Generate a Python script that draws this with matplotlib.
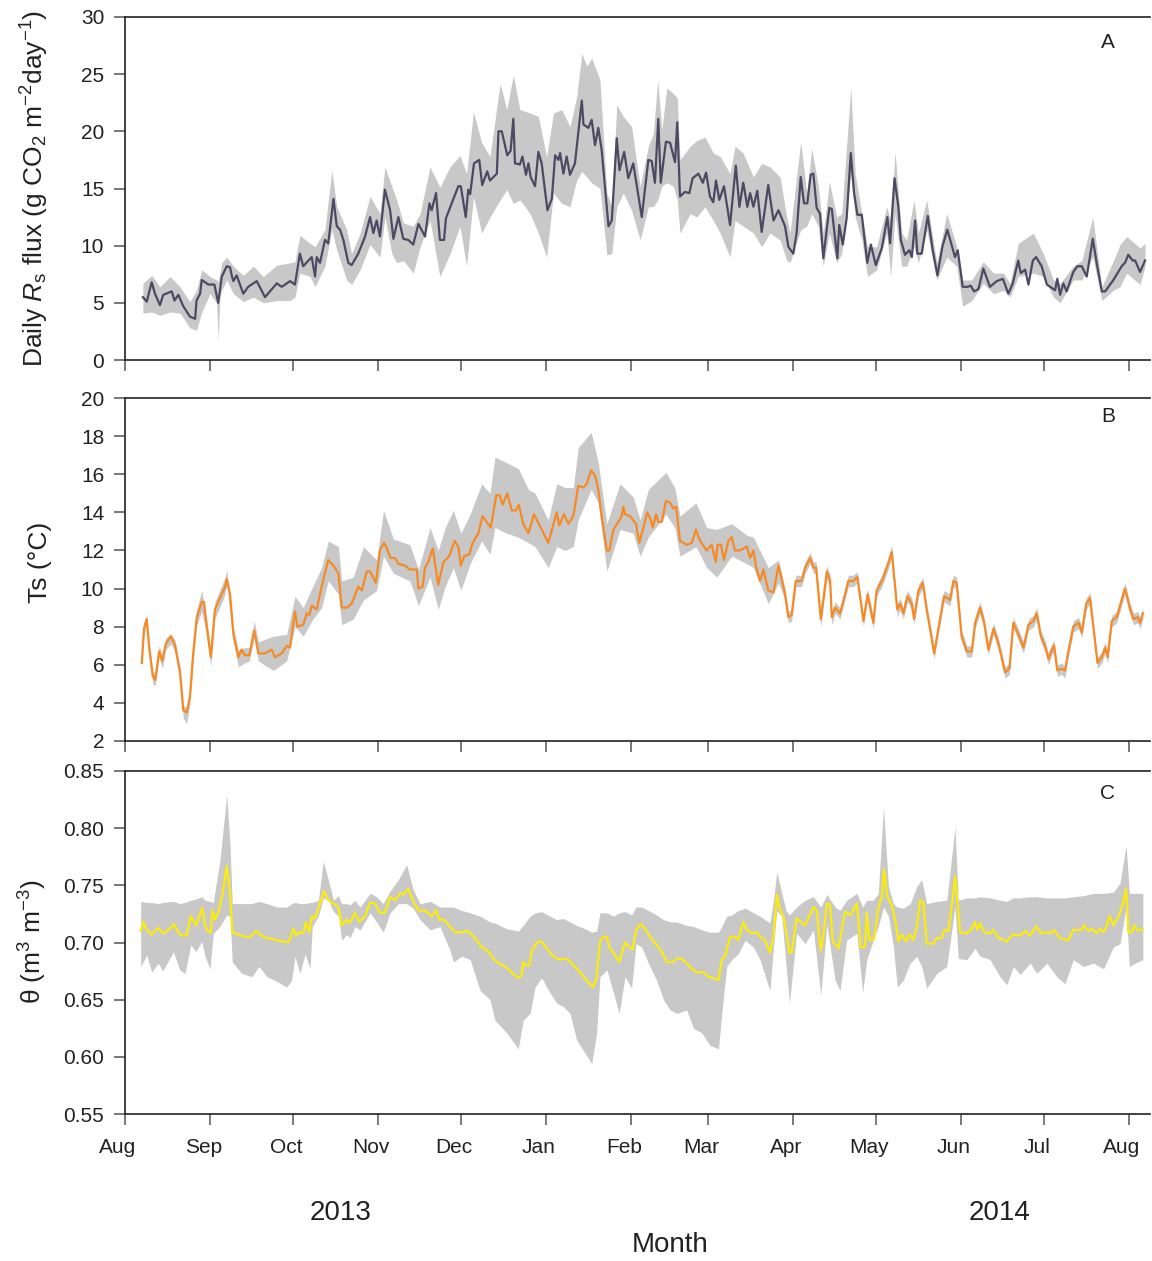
import numpy as np
import matplotlib
matplotlib.use("Agg")
import matplotlib.pyplot as plt
import matplotlib.transforms as mtransforms

plt.rcParams['font.family'] = ['Liberation Sans', 'DejaVu Sans']
plt.rcParams['mathtext.fontset'] = 'custom'
plt.rcParams['mathtext.rm'] = 'Liberation Sans'
plt.rcParams['mathtext.it'] = 'Liberation Sans:italic'
plt.rcParams['mathtext.bf'] = 'Liberation Sans:bold'

# x = days since 1 Aug 2013
month_start = [0, 31, 61, 92, 122, 153, 184, 212, 243, 273, 304, 334, 365]
month_names = ['Aug', 'Sep', 'Oct', 'Nov', 'Dec', 'Jan', 'Feb', 'Mar',
               'Apr', 'May', 'Jun', 'Jul', 'Aug']

# ---- panel A: daily Rs flux ----
a_day = [6.5, 7.9, 9.7, 10.9, 12.7, 13.9, 17, 18, 19.4, 21.2, 23.6, 25.5, 26, 27.3, 27.9, 30.3, 32.5, 33.9, 35.2, 37,
         38.2, 38.8, 39.4, 40.6, 43, 44.8, 47.9, 50.9, 55.2, 57, 60, 61.8, 63.6, 64.8, 66.7, 67.9, 69.1, 69.7, 70.9, 72.7,
         73.9, 75.8, 77, 78.2, 79.4, 81.2, 82.4, 84.8, 87.3, 89.1, 90.3, 91.5, 92.7, 94.5, 96.4, 97.6, 99.4, 101.2, 103, 104.8,
         106.7,
         109.1, 110.7, 111.5, 113.1, 114.5, 116, 116.7, 118.8, 121.2, 122.1, 123.9, 124.8, 125.5, 126.9, 128.8, 129.9, 131.7, 132.7, 135.2, 135.8,
         137, 139, 140.2, 141.2, 141.8, 143.6, 144.5, 145.8, 146.7, 147.5, 149.1, 150.3, 151.5, 153.6, 155.2, 156.4, 157.6, 158.2, 159.4, 160.6,
         161.8, 163.6, 166.1, 166.7, 168.5, 169.7, 170.9, 172.1, 173.3, 175.8, 177, 178.8, 179.8, 181.5, 183, 184.8, 187.9, 190.3, 191.5, 192.7,
         193.9, 194.8, 196.7, 198.2, 200, 200.8, 201.8, 203.6, 205.2, 206.4, 208.5, 210.1, 211.3, 212.7, 213.9, 214.9, 216.1, 217.8, 220, 222.1,
         223.4, 224.8, 226.3, 227.3, 228.5, 229.9, 231.5, 233.9, 235.8, 237.6,
         240, 241.2, 243, 244.2, 245.7, 246.9, 248.1, 249.3, 250.3, 251.5, 252.7, 253.9, 256.1, 257, 259, 259.7, 261, 262.4, 263.9, 265.1,
         266.3, 267.9, 269.9, 271.2, 273, 275.2, 277.2, 278.2, 279.8, 281.2, 282.1, 283.6, 285.2, 286.1, 287.3, 288.1, 289.7, 291.9, 293.7, 295.4,
         297.2, 299, 301.8, 302.8, 304.6, 306.3, 307.5, 308.7, 310.3, 312.1, 314.5, 317, 319.2, 321.2, 322.8, 324.8, 325.7, 327.3, 328.5, 330.1,
         331.3, 333.3, 335.2, 337, 338.2, 339, 340, 341.2, 342.4, 344.8, 346.3, 347.9, 349.7, 351.9, 353.3, 355.2, 356.4, 359.4, 362.4, 363.6,
         364.8, 366.4, 367.3, 369.1, 370.9]
a_flux = [5.5, 5.1, 6.8, 5.8, 4.8, 5.7, 6.0, 5.2, 5.7, 4.7, 3.8, 3.6, 5.2, 5.8, 7.0, 6.6, 6.6, 5.0, 7.3, 8.2,
          8.1, 7.4, 6.9, 7.4, 5.8, 6.4, 6.9, 5.5, 6.7, 6.4, 6.9, 6.6, 9.3, 8.2, 8.7, 9.0, 7.3, 9.0, 8.5, 10.5,
          10.2, 14.1, 11.7, 11.4, 10.5, 8.5, 8.3, 9.3, 10.8, 12.5, 11.1, 12.2, 10.8, 14.9, 13.1, 10.6, 12.5, 10.6, 10.5, 10.1,
          11.9,
          10.8, 13.7, 13.1, 14.6, 10.5, 10.5, 12.4, 13.7, 15.2, 15.2, 12.5, 14.9, 14.5, 17.2, 17.5, 15.3, 16.5, 15.7, 16.3, 20.0,
          20.0, 17.9, 18.3, 21.1, 17.2, 17.1, 17.8, 16.2, 17.2, 16.0, 15.2, 18.2, 17.2, 13.1, 14.1, 17.9, 17.5, 18.1, 16.3, 17.8,
          16.2, 17.2, 22.7, 20.6, 20.3, 21.0, 18.8, 20.3, 18.4, 11.7, 12.2, 19.4, 16.6, 18.2, 15.9, 17.2, 12.5, 17.5, 17.4, 15.5,
          21.1, 15.5, 19.1, 19.0, 17.3, 20.8, 14.3, 14.7, 14.6, 15.9, 16.3, 15.5, 16.4, 14.3, 13.8, 15.7, 14.0, 15.2, 11.8, 17.0,
          13.4, 15.5, 13.4, 14.6, 13.4, 14.8, 11.2, 15.3, 12.2, 13.1,
          11.7, 9.9, 9.3, 11.1, 16.0, 13.7, 13.7, 16.2, 16.3, 13.3, 12.8, 8.9, 13.3, 13.2, 8.9, 11.8, 10.1, 12.4, 18.1, 14.6,
          12.7, 12.7, 8.5, 10.1, 8.3, 9.8, 12.5, 10.2, 15.9, 13.4, 10.5, 9.2, 9.6, 9.0, 12.2, 9.3, 9.3, 12.6, 9.6, 7.4,
          9.9, 11.4, 9.0, 9.6, 6.4, 6.4, 6.5, 6.0, 6.2, 8.0, 6.4, 6.9, 7.1, 5.8, 6.7, 8.7, 7.6, 7.9, 6.6, 8.7,
          9.0, 8.2, 6.6, 6.3, 6.1, 7.1, 5.7, 6.7, 6.0, 7.7, 8.2, 8.2, 7.3, 10.6, 8.5, 6.0, 6.0, 7.0, 8.2, 8.5,
          9.2, 8.7, 8.7, 7.7, 8.7]

a_band_day = [6.5, 9.7, 12.7, 16.4, 20, 23.6, 26, 27.9, 30.9, 33.3, 33.9, 34.5, 35.2, 37, 39.4, 43, 46.7, 50.3, 55.2, 60,
              61.8, 63.6, 67.3, 69.1, 72.7, 75.2, 77, 80.6, 82.4, 85.5, 89.1, 92.7, 94.5, 97, 98.8, 101.2, 104.8, 107.3, 110.9, 114.5,
              118.2, 121.8, 124.2, 126.7, 129.7, 132.7, 136.4, 138.8, 141.2, 143.6, 147.3, 150.3, 153.3, 155.8, 158.8, 161.8, 164.2, 166.1, 167.9, 169.7,
              172.7, 175.2, 177, 178.8, 181.2, 184.2, 187.3, 190.3, 192.1, 193.7, 195.2, 197, 199.4, 200.8, 201.8, 205.5, 207.9, 210.9, 213.9, 216.4,
              220, 221.8, 224.8, 228.5, 231.5, 234.5, 238.2, 240.6, 241.8, 245.7, 247.9, 249.7, 252.1, 253.9, 256.1, 258.8, 260.6, 263.9, 265.5, 267.9,
              270, 273.3, 277, 278.4, 280, 282.4, 284.2, 286.9, 288.5, 291.5, 295.2, 298.8, 302.4, 304.6, 307.9, 312.1, 315.8, 319.4, 321.8, 324.8,
              330.3, 333.9, 337.6, 340, 344.8, 347.9, 351.9, 355.2, 359.4, 361.8, 364.2, 369.1, 370.9]
a_band_lo = [4.1, 4.2, 3.9, 4.2, 4.1, 2.8, 2.6, 4.2, 5.8, 5.0, 1.7, 5.5, 6.1, 7.0, 5.8, 5.1, 5.5, 5.0, 5.2, 5.2,
             5.5, 7.6, 7.3, 6.4, 8.2, 11.4, 9.6, 7.0, 6.6, 7.9, 10.1, 9.0, 12.5, 9.3, 8.5, 8.7, 7.6, 9.9, 12.2, 7.3,
             9.3, 11.7, 8.2, 14.3, 11.1, 12.5, 14.0, 14.9, 13.7, 14.0, 12.8, 11.1, 9.0, 14.6, 13.7, 13.4, 15.7, 16.5, 16.0, 15.5,
             15.0, 9.2, 9.3, 13.4, 14.6, 13.1, 10.5, 13.4, 13.4, 14.0, 15.2, 15.5, 15.2, 14.0, 11.1, 12.8, 12.5, 13.4, 12.2, 11.1,
             9.0, 12.2, 11.7, 11.1, 9.9, 11.1, 10.5, 8.7, 8.5, 11.4, 11.7, 12.8, 11.7, 8.2, 11.1, 8.5, 9.3, 16.3, 12.5, 10.5,
             7.3, 7.9, 11.1, 7.3, 12.8, 8.2, 8.2, 9.9, 8.5, 11.4, 7.0, 9.0, 8.2, 4.7, 5.2, 6.7, 5.8, 6.1, 5.5, 7.3,
             7.6, 7.3, 5.5, 5.0, 7.0, 7.0, 9.0, 5.2, 6.1, 6.4, 7.6, 6.6, 8.2]
a_band_hi = [6.7, 7.4, 6.4, 7.3, 6.4, 5.1, 6.1, 7.9, 7.3, 7.0, 6.9, 7.6, 8.5, 9.0, 8.2, 7.4, 8.2, 7.3, 8.3, 8.5,
             8.6, 10.9, 10.2, 9.9, 11.4, 16.6, 13.4, 11.4, 9.3, 11.1, 14.3, 12.8, 16.9, 15.2, 14.0, 12.0, 11.7, 12.8, 16.9, 15.1,
             16.9, 17.9, 16.3, 21.7, 19.0, 17.8, 24.2, 21.9, 24.9, 21.9, 21.6, 21.3, 17.8, 21.6, 21.9, 20.4, 23.0, 26.8, 25.7, 26.4,
             24.5, 14.6, 13.4, 22.3, 21.3, 20.4, 15.2, 18.7, 19.8, 24.5, 20.1, 23.8, 23.3, 22.9, 17.5, 18.7, 19.2, 19.5, 18.1, 17.8,
             16.3, 18.7, 18.1, 16.0, 17.2, 16.9, 16.0, 12.5, 11.1, 19.1, 14.6, 18.5, 15.2, 11.1, 15.6, 12.5, 12.8, 23.8, 16.3, 12.8,
             9.9, 9.9, 13.4, 12.2, 18.2, 11.1, 10.5, 14.0, 11.1, 14.0, 8.5, 12.8, 9.9, 7.0, 7.0, 8.6, 7.6, 7.6, 6.7, 10.2,
             11.1, 9.3, 7.0, 6.7, 8.2, 8.7, 12.5, 6.4, 8.7, 10.1, 10.8, 9.8, 10.2]

# ---- panel B: soil temperature ----
b_day = [6.1, 6.9, 7.9, 8.8, 10.1, 11, 12.4, 13.6, 14.8, 16.7, 18.2, 20, 21.2, 22.4, 23.6, 24.8, 26.1, 27.9, 28.7, 29.9,
         31.2, 32.7, 34.5, 36.4, 37, 38.2, 39.4, 41.2, 42.4, 43.6, 45.2, 47, 48.5, 50.9, 53.3, 54.5, 57, 58.8, 60, 61.8,
         62.7, 64.8, 66.1, 67, 67.9, 69.7, 71.5, 73.9, 75.8, 77.6, 78.8, 80.6, 82.4, 84.8, 86.1, 87.9, 89.1, 91.2, 92.7, 94.2,
         95.2, 96.6, 98.2, 99.4, 101.8, 103.6, 106.1, 106.7,
         108.2, 109.1, 110.3, 111.9, 113.9, 115.8, 117.9, 119.9, 121.2, 122.1, 123.3, 125.2, 126.4, 128.5, 130, 131.5, 133, 135, 136.2, 137.3,
         139, 140.6, 142.2, 143.2, 144.8, 146.7, 148.7, 151.5, 153.9, 157, 157.9, 159.6, 161.2, 163, 164.8, 166.7, 167.9, 169.5, 171, 172.1,
         173.3, 175.2, 176.1, 177.6, 179.4, 180.6, 181.2, 181.8, 183.6, 185.8, 187, 188.5, 189.9, 191.2, 191.9, 193.1, 193.9, 195.2, 196.7, 198.2,
         199.4, 200.4, 201.8, 204.2, 206.1, 207.6, 208.8, 210, 211.5, 213.3, 214.8, 215.5, 216.7, 217.8, 219.4, 220.6, 221.8, 223.6, 226.1, 227.3,
         228.5, 229.5, 230.9, 232.1, 233.9, 235.8, 237.6, 238.8,
         240, 241.2, 242.4, 243.9, 246, 247.3, 249.1, 250.3, 251.3, 253, 254, 255.2, 256.4, 257, 258.2, 260, 261.8, 263, 264.8, 266.3,
         268.5, 270, 272.1, 273.3, 275.2, 277, 278.8, 280.8, 281.8, 283, 284.5, 286.1, 286.9, 288.5, 290.1, 291.5, 292.7, 294.2, 296.1, 297.8,
         300, 301.2, 302.4, 304.2, 306.1, 307.9, 309.1, 310.9, 312.4, 313.9, 315.8, 317.6, 320, 321.6, 323, 324.8, 326.7, 328.5, 330.3, 331.5,
         333, 334.5, 335.8, 337, 337.8, 339, 340.6, 341.8, 343, 344.8, 346.7, 347.9, 349.5, 350.9, 353.6, 355.2, 356.4, 357.3, 358.8, 360.6,
         363.6, 365.5, 366.7, 368.2, 369.1, 370.1]
b_ts = [6.1, 7.9, 8.4, 6.9, 5.4, 5.2, 6.7, 6.2, 7.1, 7.5, 7.0, 5.6, 3.6, 3.5, 4.3, 6.6, 8.5, 9.3, 9.3, 7.8,
        6.4, 8.9, 9.5, 10.1, 10.5, 9.7, 7.6, 6.4, 6.8, 6.5, 6.5, 7.8, 6.6, 6.6, 6.8, 6.4, 6.6, 7.0, 6.9, 8.8,
        8.0, 8.1, 8.7, 8.6, 9.1, 8.9, 10.1, 11.5, 11.2, 10.8, 9.0, 9.0, 9.2, 10.1, 9.9, 10.9, 10.9, 10.3, 12.0, 12.4,
        12.1, 11.6, 11.6, 11.3, 11.2, 11.0, 11.0, 10.0,
        10.1, 11.1, 11.4, 12.1, 10.2, 11.4, 11.7, 12.5, 12.2, 11.2, 11.7, 11.8, 12.4, 12.9, 13.8, 13.5, 13.2, 14.9, 14.9, 14.4,
        15.0, 14.1, 14.1, 14.4, 13.4, 12.9, 13.9, 13.1, 12.4, 14.0, 13.3, 13.9, 13.4, 13.8, 15.4, 15.3, 15.5, 16.2, 15.9, 15.2,
        13.8, 12.0, 12.0, 13.1, 13.5, 13.8, 14.3, 13.9, 13.8, 13.4, 12.4, 13.2, 14.0, 13.6, 13.2, 13.9, 13.5, 13.5, 14.6, 14.5,
        14.2, 14.3, 12.5, 12.3, 12.4, 13.1, 12.6, 12.3, 12.0, 12.3, 11.4, 12.3, 12.3, 11.5, 12.5, 12.7, 12.0, 12.0, 12.2, 11.6,
        12.0, 11.1, 10.4, 11.0, 9.9, 9.8, 11.2, 10.5,
        9.7, 8.5, 8.6, 10.4, 10.4, 11.1, 11.6, 11.1, 11.1, 8.4, 9.5, 10.9, 10.4, 8.5, 9.0, 8.7, 9.7, 10.4, 10.4, 10.6,
        8.3, 9.7, 8.2, 9.9, 10.4, 11.1, 11.9, 8.9, 9.2, 8.7, 9.6, 9.2, 8.4, 9.9, 10.3, 8.9, 7.9, 6.6, 8.2, 9.6,
        9.4, 10.4, 10.3, 7.5, 6.7, 6.7, 8.2, 9.0, 8.2, 6.8, 7.9, 7.1, 5.6, 5.8, 8.2, 7.6, 6.9, 8.1, 8.3, 8.7,
        7.5, 7.0, 6.3, 6.8, 7.0, 5.7, 5.8, 5.7, 6.7, 8.0, 8.2, 7.7, 9.2, 9.5, 6.1, 6.4, 6.9, 6.4, 8.3, 8.5,
        10.0, 8.9, 8.4, 8.5, 8.2, 8.7]

b_band_day = [6.1, 6.9, 7.9, 8.8, 10.1, 11, 12.4, 13.6, 14.8, 16.7, 18.2, 20, 21.2, 22.4, 23.6, 24.8, 26.1, 27.9, 29.9, 31.2,
              32.7, 36.4, 37, 39.4, 41.2, 43.6, 45.2, 47, 48.5, 53.9, 58.8, 61.8, 64.8, 67.9, 71.5, 73.9, 77.6, 78.8, 83, 86.7,
              91.5, 94, 97.6, 103.6, 106.7, 110.9, 113.9, 116.4, 119.4, 122.1, 125.5, 129.7, 132.7, 134.5, 138.8, 143, 146.7, 149.1, 153.9, 157,
              160, 163, 164.8, 169.5, 172.1, 175.2, 180, 184.8, 187.3, 190.3, 196.7, 199.9, 201.8, 207.6, 211.5, 215.2, 220.6, 226.1, 228.5, 233.9,
              237.6,
              240, 241.2, 242.4, 243.9, 246, 247.3, 249.1, 250.3, 251.3, 253, 254, 255.2, 256.4, 257, 258.2, 260, 261.8, 263, 264.8, 266.3,
              268.5, 270, 272.1, 273.3, 275.2, 277, 278.8, 280.8, 281.8, 283, 284.5, 286.1, 286.9, 288.5, 290.1, 291.5, 292.7, 294.2, 296.1, 297.8,
              300, 301.2, 302.4, 304.2, 306.1, 307.9, 309.1, 310.9, 312.4, 313.9, 315.8, 317.6, 320, 321.6, 323, 324.8, 326.7, 328.5, 330.3, 331.5,
              333, 334.5, 335.8, 337, 337.8, 339, 340.6, 341.8, 343, 344.8, 346.7, 347.9, 349.5, 350.9, 353.6, 355.2, 356.4, 357.3, 358.8, 360.6,
              363.6, 365.5, 366.7, 368.2, 369.1, 370.1]
b_band_lo = [5.8, 7.6, 8.1, 6.6, 5.0, 4.9, 6.4, 5.8, 6.8, 7.1, 6.7, 5.3, 3.2, 2.9, 3.9, 6.2, 8.1, 8.8, 7.4, 5.9,
             8.4, 9.7, 10.2, 7.2, 5.9, 6.1, 6.2, 7.4, 6.2, 5.7, 6.2, 8.0, 7.5, 8.3, 9.0, 10.4, 9.7, 8.1, 8.4, 9.4,
             9.9, 11.7, 10.8, 10.4, 9.1, 10.6, 8.9, 10.1, 11.1, 9.9, 11.3, 12.5, 11.8, 13.2, 12.9, 12.7, 12.4, 12.2, 11.1, 12.2,
             12.0, 12.2, 13.6, 15.2, 14.5, 10.9, 13.1, 12.9, 11.7, 12.7, 13.9, 13.2, 11.7, 12.2, 11.1, 10.6, 11.7, 11.3, 11.1, 9.2,
             10.3,
             9.4, 8.2, 8.3, 10.1, 10.1, 10.8, 11.3, 10.8, 10.8, 8.0, 9.2, 10.5, 10.0, 8.1, 8.7, 8.4, 9.4, 10.1, 10.1, 10.3,
             8.0, 9.4, 7.9, 9.6, 10.1, 10.8, 11.6, 8.5, 8.9, 8.4, 9.3, 8.9, 8.1, 9.6, 10.0, 8.6, 7.6, 6.3, 7.9, 9.3,
             9.1, 10.1, 10.0, 7.2, 6.4, 6.4, 7.9, 8.7, 7.9, 6.5, 7.6, 6.8, 5.3, 5.5, 7.9, 7.3, 6.6, 7.8, 8.0, 8.4,
             7.2, 6.7, 6.0, 6.5, 6.7, 5.4, 5.5, 5.3, 6.4, 7.7, 7.9, 7.4, 8.9, 9.2, 5.8, 6.1, 6.6, 6.1, 8.0, 8.2,
             9.7, 8.6, 8.1, 8.2, 7.9, 8.4]
b_band_hi = [6.3, 8.2, 8.6, 7.2, 5.7, 5.5, 7.0, 6.5, 7.4, 7.6, 7.3, 5.9, 3.9, 3.7, 4.6, 6.9, 8.9, 9.9, 8.2, 6.8,
             9.3, 10.6, 11.0, 8.0, 6.8, 6.9, 6.9, 8.3, 7.2, 7.5, 7.6, 9.6, 9.0, 10.0, 11.1, 12.5, 12.2, 10.4, 10.6, 12.2,
             11.5, 14.1, 12.6, 12.3, 11.0, 13.2, 12.0, 13.2, 14.1, 12.9, 13.9, 15.5, 15.0, 16.9, 16.6, 16.3, 15.2, 15.0, 13.6, 15.5,
             15.3, 15.3, 17.4, 18.2, 16.6, 13.4, 15.5, 14.8, 13.6, 15.2, 16.1, 15.3, 13.8, 14.5, 13.2, 13.1, 13.4, 12.8, 12.7, 11.1,
             11.5,
             10.0, 8.8, 8.9, 10.7, 10.7, 11.4, 11.9, 11.4, 11.4, 8.7, 9.8, 11.2, 10.7, 8.8, 9.3, 9.0, 10.0, 10.7, 10.7, 10.9,
             8.6, 10.0, 8.5, 10.2, 10.7, 11.4, 12.3, 9.2, 9.5, 9.0, 9.9, 9.5, 8.7, 10.2, 10.6, 9.2, 8.2, 6.9, 8.5, 9.9,
             9.7, 10.7, 10.6, 7.8, 7.0, 7.0, 8.5, 9.3, 8.5, 7.1, 8.2, 7.4, 5.9, 6.1, 8.5, 7.9, 7.2, 8.4, 8.6, 9.0,
             7.8, 7.3, 6.6, 7.1, 7.3, 6.0, 6.1, 5.9, 7.0, 8.3, 8.5, 8.0, 9.5, 9.8, 6.4, 6.7, 7.2, 6.7, 8.6, 8.8,
             10.3, 9.2, 8.7, 8.8, 8.5, 9.0]

# ---- panel C: soil water content ----
c_day = [5.7, 6.7, 7.9, 9.7, 12.1, 13.7, 15.8, 17.9, 19.4, 20.6, 22.4, 23.9, 25.8, 28.1, 29.1, 30.3, 31.2, 31.8, 32.7, 33.9,
         35.5, 37, 38.2, 39, 43.6, 45.7, 47.6, 50.3, 55.2, 57.6, 59.4, 61.2, 62.2, 63.4, 64.8, 65.8, 67, 67.9, 69.1, 70.3,
         72.4, 73.9, 75.8, 77.6, 78.8, 80.6, 81.8, 83.6, 85.2, 87.3, 89.1, 90.9, 92.7, 94.5, 96.4, 98.2, 100, 101.2, 103, 104.8,
         106.7,
         109.1, 111.5, 113.1, 114.3, 116, 117.9, 120, 122.4, 124.8, 127.3, 129.7, 132.1, 133.9, 135.8, 138.2, 140.6, 143, 144.2, 144.8, 145.8,
         147, 147.9, 149.7, 151.5, 153.3, 155.2, 157, 158.4, 159.6, 161.2, 163.6, 166.1, 168.5, 170.3, 171.5, 172.7, 173.9, 175.2, 176.1, 177.6,
         179.7, 181.8, 183, 184.6, 185.8, 187.6, 189.1, 190.9, 193.3, 195.2, 197, 199.4, 200.6, 202.4, 204.2, 206.1, 207.9, 210.3, 212.1, 213.9,
         215.8, 217, 218.2, 220, 221.8, 223, 224.8, 226.1, 227.9, 229.7, 230.9, 232.7, 234.5, 235.8, 237, 237.9,
         239.6, 241.6, 242.4, 244.2, 247.3, 250.3, 251.5, 253, 253.9, 255.2, 256.4, 257.3, 259.4, 261.8, 263.9, 266.1, 267.5, 269.1, 269.7, 270.7,
         272.4, 273.9, 275.2, 276, 277.2, 278.8, 280.4, 281.2, 282.4, 284, 285.2, 286.7, 287.9, 289.1, 290.3, 291.5, 293.9, 295.2, 297, 297.9,
         299.4, 300.6, 301.8, 303, 303.6, 306.1, 307.9, 309.1, 309.9, 310.9, 312.4, 314.5, 315.8, 317.6, 320.6, 322.8, 325.5, 327.3, 328.9, 331.5,
         333, 335.2, 336.6, 337.8, 339.8, 343, 344.8, 347.9, 348.8, 350.3, 351.5, 353.3, 354.5, 355.8, 356.7, 358, 359.4, 361.2, 362.4, 364,
         364.8, 366.1, 366.9, 368.1, 370.1]
c_theta = [0.710, 0.718, 0.711, 0.707, 0.713, 0.708, 0.711, 0.716, 0.709, 0.706, 0.706, 0.723, 0.715, 0.730, 0.715, 0.709, 0.709, 0.728, 0.720, 0.726,
           0.743, 0.767, 0.743, 0.709, 0.705, 0.705, 0.710, 0.705, 0.702, 0.701, 0.700, 0.712, 0.706, 0.709, 0.708, 0.718, 0.709, 0.723, 0.721, 0.730,
           0.745, 0.737, 0.734, 0.731, 0.715, 0.720, 0.717, 0.726, 0.718, 0.723, 0.735, 0.734, 0.726, 0.726, 0.740, 0.737, 0.743, 0.742, 0.747, 0.736,
           0.728,
           0.728, 0.723, 0.728, 0.720, 0.720, 0.715, 0.709, 0.709, 0.710, 0.704, 0.696, 0.692, 0.686, 0.682, 0.679, 0.674, 0.669, 0.671, 0.683, 0.680,
           0.680, 0.692, 0.700, 0.701, 0.695, 0.689, 0.686, 0.685, 0.686, 0.685, 0.679, 0.672, 0.665, 0.661, 0.670, 0.701, 0.705, 0.705, 0.696, 0.691,
           0.683, 0.700, 0.697, 0.694, 0.711, 0.716, 0.712, 0.705, 0.698, 0.692, 0.683, 0.683, 0.686, 0.686, 0.682, 0.677, 0.674, 0.674, 0.670, 0.669,
           0.667, 0.685, 0.688, 0.705, 0.705, 0.702, 0.718, 0.711, 0.708, 0.709, 0.705, 0.702, 0.691, 0.705, 0.742, 0.731,
           0.721, 0.691, 0.691, 0.721, 0.715, 0.731, 0.728, 0.693, 0.705, 0.734, 0.733, 0.701, 0.695, 0.727, 0.724, 0.734, 0.696, 0.696, 0.726, 0.702,
           0.703, 0.730, 0.740, 0.764, 0.740, 0.733, 0.715, 0.701, 0.707, 0.701, 0.707, 0.702, 0.714, 0.737, 0.735, 0.699, 0.699, 0.704, 0.704, 0.711,
           0.710, 0.731, 0.758, 0.728, 0.709, 0.708, 0.712, 0.718, 0.711, 0.717, 0.709, 0.708, 0.711, 0.704, 0.701, 0.707, 0.706, 0.710, 0.706, 0.714,
           0.708, 0.709, 0.708, 0.711, 0.704, 0.702, 0.711, 0.711, 0.715, 0.710, 0.712, 0.708, 0.712, 0.709, 0.713, 0.723, 0.715, 0.723, 0.730, 0.747,
           0.709, 0.709, 0.715, 0.711, 0.711]

c_band_day = [5.7, 7.9, 9.7, 12.1, 13.7, 17.6, 19.9, 21.8, 23.9, 25.8, 27.9, 29.1, 30.9, 32.1, 34.5, 37, 38.2, 39, 42.4, 46.1,
              48.7, 51.7, 55.2, 58.8, 60.6, 61.8, 63.6, 65.5, 67.3, 68.1, 70.3, 72.1, 73.9, 75.8, 77.6, 78.8, 80.6, 81.8, 83.6, 85.5,
              89.1, 91.5, 93.9, 96.4, 99.4, 102.4, 104.8, 107.3, 111, 114.5, 118.2, 119.4, 122.4, 125.5, 129.1, 132.7, 134.5, 138.8, 143, 144.8,
              147.3, 149.1, 151.5, 154.5, 157, 159.4, 161.8, 164.2, 167.3, 169.7, 171.5, 172.7, 175.2, 177.6, 179.7, 181.8, 184.2, 185.8, 187.9, 190.3,
              193.3, 195.8, 198.2, 200.6, 204.2, 206.7, 209.7, 212.7, 215.8, 217, 218.8, 220.6, 223, 225.5, 228.5, 230.9, 234.5, 235.8, 237, 238.8,
              240.4, 241.6, 244.2, 247.3, 250.3, 253, 255.2, 258.2, 260, 262.4, 266.1, 268.2, 269.7, 272.1, 273.9, 275.8, 277.6, 279.4, 280.8, 283,
              285.5, 287.9, 289.7, 291.5, 295.2, 298.8, 301.8, 303, 306.1, 309.1, 310.9, 314.5, 318.2, 320.6, 323, 325.5, 329.1, 331.5, 335.2, 338.8,
              341.8, 344.8, 348.5, 352.1, 355.8, 359.4, 361.8, 364, 365.2, 367.3, 370.1]
c_band_lo = [0.679, 0.689, 0.674, 0.682, 0.675, 0.692, 0.676, 0.673, 0.698, 0.692, 0.701, 0.688, 0.677, 0.708, 0.714, 0.724, 0.723, 0.683, 0.673, 0.670,
             0.679, 0.670, 0.666, 0.661, 0.667, 0.688, 0.673, 0.690, 0.677, 0.714, 0.723, 0.739, 0.737, 0.727, 0.723, 0.702, 0.707, 0.704, 0.714, 0.711,
             0.726, 0.718, 0.709, 0.726, 0.734, 0.734, 0.730, 0.720, 0.711, 0.714, 0.693, 0.683, 0.688, 0.685, 0.658, 0.650, 0.632, 0.621, 0.607, 0.632,
             0.638, 0.661, 0.669, 0.656, 0.647, 0.644, 0.638, 0.615, 0.603, 0.594, 0.621, 0.670, 0.676, 0.656, 0.638, 0.670, 0.660, 0.699, 0.696, 0.682,
             0.667, 0.650, 0.641, 0.638, 0.641, 0.625, 0.621, 0.610, 0.607, 0.638, 0.679, 0.685, 0.690, 0.702, 0.696, 0.685, 0.658, 0.696, 0.728, 0.723,
             0.679, 0.647, 0.708, 0.699, 0.711, 0.654, 0.716, 0.667, 0.658, 0.702, 0.708, 0.656, 0.685, 0.702, 0.714, 0.731, 0.723, 0.696, 0.661, 0.667,
             0.682, 0.688, 0.679, 0.660, 0.673, 0.679, 0.731, 0.686, 0.685, 0.695, 0.688, 0.685, 0.670, 0.663, 0.679, 0.672, 0.682, 0.673, 0.682, 0.670,
             0.664, 0.685, 0.679, 0.682, 0.677, 0.696, 0.699, 0.731, 0.679, 0.682, 0.685]
c_band_hi = [0.736, 0.735, 0.735, 0.734, 0.735, 0.736, 0.734, 0.735, 0.737, 0.738, 0.740, 0.737, 0.736, 0.735, 0.772, 0.829, 0.784, 0.734, 0.734, 0.734,
             0.736, 0.734, 0.731, 0.731, 0.734, 0.735, 0.734, 0.734, 0.735, 0.735, 0.737, 0.771, 0.755, 0.737, 0.741, 0.734, 0.734, 0.733, 0.737, 0.731,
             0.743, 0.740, 0.734, 0.745, 0.755, 0.768, 0.746, 0.734, 0.736, 0.731, 0.731, 0.731, 0.728, 0.726, 0.723, 0.718, 0.717, 0.712, 0.710, 0.715,
             0.723, 0.726, 0.727, 0.723, 0.720, 0.721, 0.718, 0.715, 0.712, 0.709, 0.710, 0.726, 0.726, 0.723, 0.726, 0.727, 0.724, 0.731, 0.731, 0.728,
             0.724, 0.720, 0.718, 0.718, 0.715, 0.714, 0.711, 0.709, 0.709, 0.714, 0.723, 0.724, 0.728, 0.730, 0.726, 0.723, 0.717, 0.737, 0.762, 0.743,
             0.728, 0.724, 0.731, 0.737, 0.740, 0.731, 0.742, 0.731, 0.728, 0.737, 0.743, 0.731, 0.737, 0.737, 0.743, 0.819, 0.749, 0.734, 0.731, 0.730,
             0.734, 0.749, 0.755, 0.734, 0.736, 0.737, 0.801, 0.737, 0.739, 0.739, 0.740, 0.739, 0.737, 0.736, 0.739, 0.739, 0.740, 0.740, 0.739, 0.739,
             0.739, 0.740, 0.741, 0.743, 0.743, 0.744, 0.752, 0.785, 0.743, 0.743, 0.743]

BAND = '#c8c8c8'

panels = [
    dict(day=a_day, val=a_flux, bday=a_band_day, lo=a_band_lo, hi=a_band_hi,
         color='#4e4963', ylim=(0, 30), yticks=np.arange(0, 31, 5), fmt='{:.0f}',
         letter='A', ly=0.925, bottom=1 - 360 / 1261,
         ylabel=r'Daily $\mathit{R}_\mathrm{s}$ flux (g CO$_2$ m$^{-2}$day$^{-1}$)', lx=35, lyf=188),
    dict(day=b_day, val=b_ts, bday=b_band_day, lo=b_band_lo, hi=b_band_hi,
         color='#f58a26', ylim=(2, 20), yticks=np.arange(2, 21, 2), fmt='{:.0f}',
         letter='B', ly=0.945, bottom=1 - 741 / 1261,
         ylabel='Ts (°C)', lx=40, lyf=562),
    dict(day=c_day, val=c_theta, bday=c_band_day, lo=c_band_lo, hi=c_band_hi,
         color='#fbec0c', ylim=(0.55, 0.85), yticks=np.arange(0.55, 0.851, 0.05), fmt='{:.2f}',
         letter='C', ly=0.935, bottom=1 - 1114 / 1261,
         ylabel=r'θ (m$^3$ m$^{-3}$)', lx=33, lyf=942),
]

fig = plt.figure(figsize=(11.52, 12.61), dpi=100)
W, H = 1152, 1261
axes = []
for p in panels:
    ax = fig.add_axes([125 / W, p['bottom'], 1025 / W, 343 / H])
    ax.fill_between(p['bday'], p['lo'], p['hi'], color=BAND, linewidth=0, zorder=1)
    ax.plot(p['day'], p['val'], color=p['color'], lw=1.6, zorder=2)
    ax.set_xlim(0, 372.7)
    ax.set_ylim(*p['ylim'])
    ax.set_yticks(p['yticks'])
    ax.set_yticklabels([p['fmt'].format(v) for v in p['yticks']])
    ax.set_xticks(month_start)
    ax.spines['right'].set_visible(False)
    for s in ('left', 'top', 'bottom'):
        ax.spines[s].set_color('#222222')
        ax.spines[s].set_linewidth(1.2)
    ax.tick_params(axis='both', direction='out', length=8, width=1.1,
                   color='#555555', labelsize=15, labelcolor='#222222')
    ax.tick_params(axis='y', pad=7)
    ax.tick_params(axis='x', pad=9)
    ax.text(0.959, p['ly'], p['letter'], transform=ax.transAxes,
            ha='center', va='center', fontsize=15, color='#222222')
    fig.text(p['lx'] / W, 1 - p['lyf'] / H, p['ylabel'], rotation=90,
             ha='center', va='center', fontsize=19, color='#222222')
    axes.append(ax)

for ax in axes[:-1]:
    ax.set_xticklabels([])

axes[-1].set_xticklabels(month_names)
shift = mtransforms.ScaledTranslation(-7 / 100, 0, fig.dpi_scale_trans)
for lab in axes[-1].get_xticklabels():
    lab.set_transform(lab.get_transform() + shift)

fig.text(341 / W, 1 - 1213 / H, '2013', ha='center', va='center', fontsize=20, color='#222222')
fig.text(1000 / W, 1 - 1213 / H, '2014', ha='center', va='center', fontsize=20, color='#222222')
fig.text(670 / W, 1 - 1245 / H, 'Month', ha='center', va='center', fontsize=20, color='#222222')

fig.savefig('out.png', dpi=100)
